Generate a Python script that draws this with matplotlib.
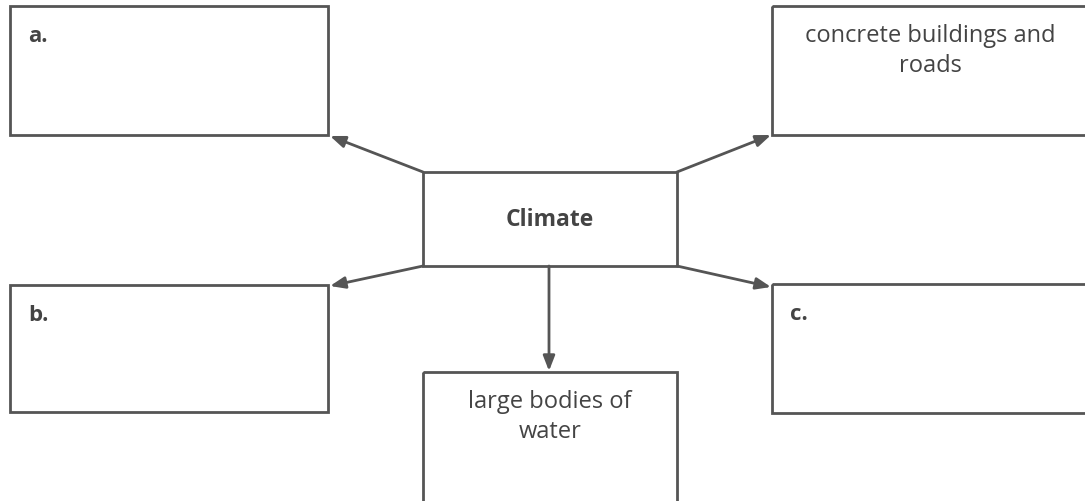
import matplotlib.pyplot as plt
from matplotlib.patches import Rectangle

# Diagram content #
center_label = 'Climate'
outer_labels = ['a.', 'concrete buildings and\nroads', 'b.', 'c.', 'large bodies of\nwater']
outer_bold = [True, False, True, True, False]

# Layout in pixel coords (x right, y down)
W, H = 1085, 502
center_box = (423, 173, 254, 94)   # x, y, w, h
outer_boxes = [
    (10, 7, 318, 129),      # a
    (772, 7, 330, 129),     # concrete
    (10, 286, 318, 127),    # b
    (772, 285, 330, 129),   # c
    (423, 373, 254, 140),   # water
]
# arrow start points on the center box and end points on the outer boxes
arrows = [
    ((423, 173), (330, 137)),
    ((677, 173), (771, 136)),
    ((423, 267), (330, 287)),
    ((677, 267), (771, 288)),
    ((549, 267), (549, 372)),
]

col = '#555555'
txtcol = '#444444'
plt.rcParams['font.family'] = ['Open Sans', 'DejaVu Sans']

fig = plt.figure(figsize=(W/100, H/100), dpi=100)
ax = fig.add_axes([0, 0, 1, 1])
ax.set_xlim(0, W)
ax.set_ylim(H, 0)
ax.axis('off')

for (x, y, w, h) in [center_box] + outer_boxes:
    ax.add_patch(Rectangle((x, y), w, h, fill=False, edgecolor=col, linewidth=2))

for (x0, y0), (x1, y1) in arrows:
    ax.annotate('', xy=(x1, y1), xytext=(x0, y0),
                arrowprops=dict(arrowstyle='-|>,head_length=0.9,head_width=0.35',
                                color=col, lw=2, shrinkA=0, shrinkB=0))

x, y, w, h = center_box
ax.text(x + w/2, y + h/2, center_label, ha='center', va='center',
        fontsize=16.5, fontweight='bold', color=txtcol)

for (x, y, w, h), lab, bold in zip(outer_boxes, outer_labels, outer_bold):
    if bold:
        ax.text(x + 18, y + 30, lab, ha='left', va='center', fontsize=16,
                fontweight='bold', color=txtcol)
    else:
        cx = x + w/2 if x + w <= W else (x + 316/2)
        ax.text(cx, y + 44, lab, ha='center', va='center', fontsize=17,
                color=txtcol, linespacing=1.32)

fig.savefig('out.png', dpi=100)
